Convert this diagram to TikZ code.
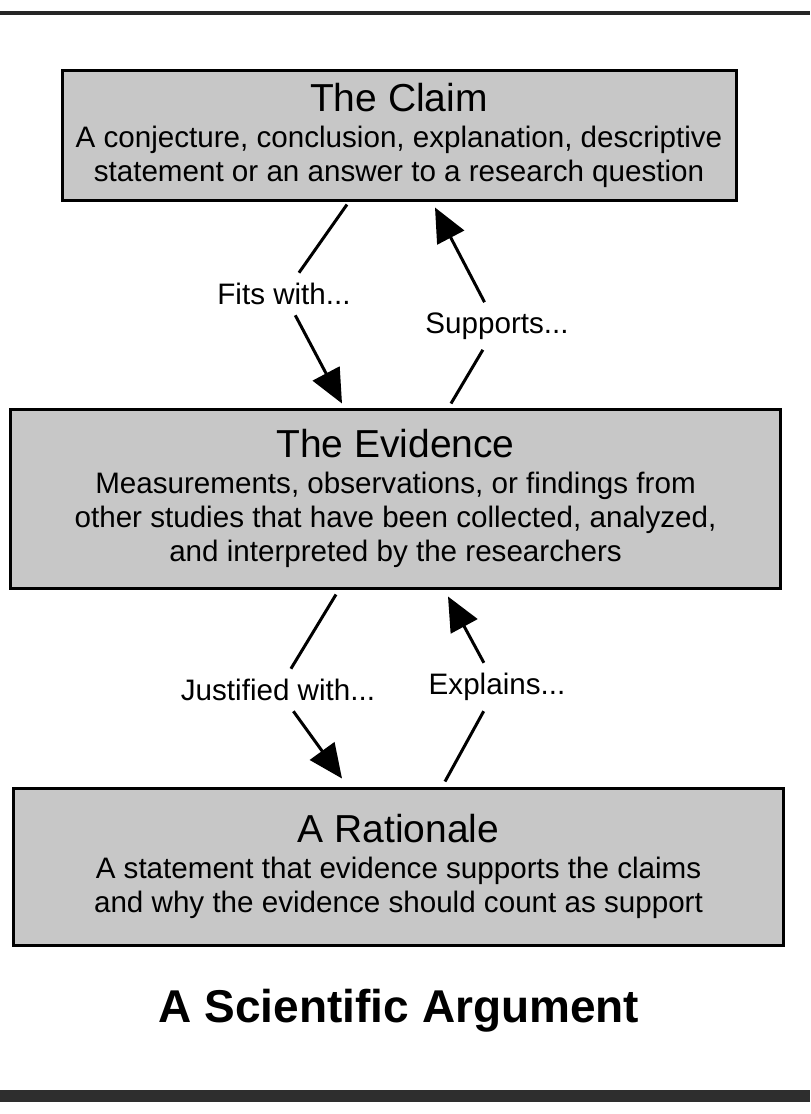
\documentclass[tikz,border=0pt]{standalone}
\usepackage{fontspec}
\setmainfont{Liberation Sans}
\usepackage{tikz}
\usetikzlibrary{arrows.meta, positioning, calc}

\newcommand{\boxhead}[1]{{\fontsize{19.5}{20}\selectfont #1}}

\begin{document}
\begin{tikzpicture}[
    x=0.5pt, y=-0.5pt,
    every node/.style={font=\fontsize{14.8}{17}\selectfont},
    stage/.style={
        rectangle,
        draw=black,
        line width=1.5pt,
        fill=black!22,
        align=center,
        inner sep=0pt
    },
    tag/.style={
        inner sep=5pt
    },
    link/.style={
        line width=1.5pt
    },
    arrow/.style={
        -{Triangle[length=17pt,width=15pt]},
        line width=1.5pt
    }
]
\useasboundingbox (0,0) rectangle (810,1114);

\draw [line width=2pt, black!85] (0,13) -- (810,13);
\fill [black!82] (0,1090) rectangle (810,1102);

\node (claim) [stage, minimum width=337pt, minimum height=65pt] at (399,135) {
\boxhead{The Claim}\\[1pt]
A conjecture, conclusion, explanation, descriptive\\
statement or an answer to a research question
};

\node (evidence) [stage, minimum width=385pt, minimum height=89.5pt, below=103pt of claim, xshift=-1.75pt] {
\boxhead{The Evidence}\\[1pt]
Measurements, observations, or findings from\\
other studies that have been collected, analyzed,\\
and interpreted by the researchers
};

\node (rationale) [stage, minimum width=385pt, minimum height=78.5pt, below=98.5pt of evidence, xshift=1.5pt] {
\boxhead{A Rationale}\\[1pt]
A statement that evidence supports the claims\\
and why the evidence should count as support
};

\node (title) [anchor=base, font=\fontsize{23}{26}\selectfont\bfseries] at (399,1022) {A Scientific Argument};

\node (fits) [tag] at (284,294) {Fits with...};
\node (supports) [tag] at (497,326) {Supports...};
\node (justified) [tag] at (278,690) {Justified with...};
\node (explains) [tag] at (497,687) {Explains...};

\draw [link] ($(claim.south)+(-52,3)$) -- (fits);
\draw [arrow] (fits) -- ($(evidence.north)+(-53.5,-4)$);
\draw [link] ($(evidence.north)+(55.5,-4)$) -- (supports);
\draw [arrow] (supports) -- ($(claim.south)+(36,6)$);
\draw [link] ($(evidence.south)+(-59.5,5)$) -- (justified);
\draw [arrow] (justified) -- ($(rationale.north)+(-56.5,-8)$);
\draw [link] ($(rationale.north)+(46.5,-5)$) -- (explains);
\draw [arrow] (explains) -- ($(evidence.south)+(52.5,7)$);

\end{tikzpicture}
\end{document}
